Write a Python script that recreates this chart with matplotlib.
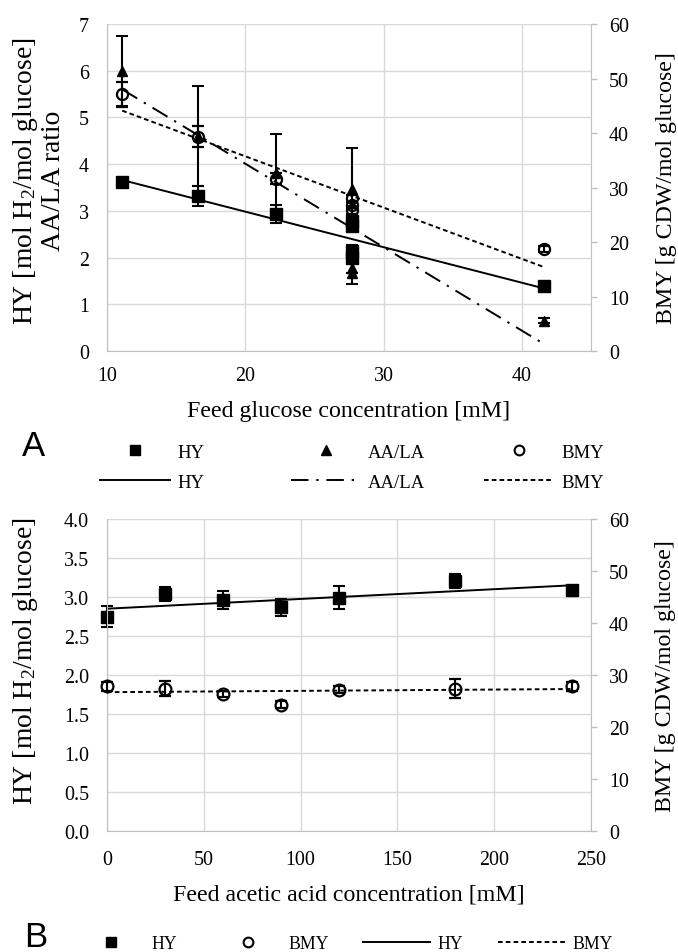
import matplotlib
matplotlib.use('Agg')
import matplotlib.pyplot as plt
from matplotlib.lines import Line2D
from matplotlib.ticker import FormatStrFormatter

plt.rcParams['font.family'] = ['Liberation Serif', 'DejaVu Serif']
plt.rcParams['mathtext.fontset'] = 'custom'
plt.rcParams['mathtext.rm'] = 'Liberation Serif'
plt.rcParams['mathtext.default'] = 'regular'

# ---------------- Panel A data ----------------
glc_hy_x = [11.1, 16.6, 22.2, 27.7, 27.7, 27.7, 27.7, 41.6]
glc_hy = [3.62, 3.32, 2.93, 2.78, 2.68, 2.15, 2.00, 1.39]
glc_hy_err = [0.04, 0.21, 0.20, 0.10, 0.08, 0.12, 0.10, 0.06]

glc_aa_x = [11.1, 16.6, 22.2, 27.7, 27.7, 27.7, 41.6]
glc_aa = [6.00, 4.60, 3.82, 3.47, 1.78, 1.66, 0.65]
glc_aa_err = [0.75, 1.07, 0.83, 0.88, 0.12, 0.23, 0.05]

glc_bmy_x = [11.1, 16.6, 22.2, 27.7, 27.7, 27.7, 41.6]
glc_bmy = [47.1, 39.3, 31.6, 28.0, 26.8, 25.8, 18.7]
glc_bmy_err = [2.3, 1.9, 1.0, 0.6, 0.6, 0.6, 0.5]

glc_trend_x = [11.1, 41.6]
glc_hy_trend = [3.66, 1.34]
glc_aa_trend = [5.60, 0.15]
glc_bmy_trend = [44.1, 15.4]

# ---------------- Panel B data ----------------
ac_x = [0, 30, 60, 90, 120, 180, 240]
ac_hy = [2.75, 3.04, 2.96, 2.87, 2.99, 3.20, 3.09]
ac_hy_err = [0.13, 0.09, 0.12, 0.11, 0.15, 0.09, 0.05]
ac_bmy = [27.8, 27.4, 26.3, 24.3, 27.2, 27.4, 27.8]
ac_bmy_err = [0.8, 1.4, 0.6, 0.7, 0.6, 1.8, 0.9]

ac_trend_x = [0, 240]
ac_hy_trend = [2.85, 3.15]
ac_bmy_trend = [26.7, 27.3]

GRID = '#d9d9d9'
SPINE = '#bfbfbf'
FS_TICK = 14.4
FS_LAB = 17.2
FS_YLAB_L = 19.9

DASHDOT = (0, (9, 4, 1.2, 4))
DASHED = (0, (2.4, 1.6))

W, H = 678, 953
fig = plt.figure(figsize=(W / 100, H / 100), dpi=100)


def box(l, t, r, b):
    return [l / W, 1 - b / H, (r - l) / W, (b - t) / H]


def style(ax, ax2, xpad):
    for a in (ax, ax2):
        for s in a.spines.values():
            s.set_visible(False)
    ax.spines['left'].set_visible(True)
    ax.spines['left'].set_color(SPINE)
    ax.spines['bottom'].set_visible(True)
    ax.spines['bottom'].set_color(SPINE)
    ax2.spines['right'].set_visible(True)
    ax2.spines['right'].set_color(SPINE)
    ax.grid(True, color=GRID, lw=1.0)
    ax.set_axisbelow(True)
    ax.tick_params(axis='y', length=0, labelsize=FS_TICK, pad=13)
    ax.tick_params(axis='x', length=0, labelsize=FS_TICK, pad=xpad)
    ax2.tick_params(axis='y', length=4.5, width=1.0, color=SPINE, labelsize=FS_TICK, pad=8.5)


ebkw = dict(ecolor='black', elinewidth=1.5, capsize=4.3, capthick=1.5, linestyle='none')

# ================= Panel A =================
axA = fig.add_axes(box(107, 25, 591, 352))
axA2 = axA.twinx()
style(axA, axA2, 11)
axA.set_xlim(10, 45)
axA.set_xticks([10, 20, 30, 40])
axA.set_ylim(0, 7)
axA.set_yticks(range(0, 8))
axA2.set_ylim(0, 60)
axA2.set_yticks(range(0, 61, 10))

axA.plot(glc_trend_x, glc_hy_trend, color='black', lw=1.4, ls='-')
axA.plot(glc_trend_x, glc_aa_trend, color='black', lw=1.4, ls=DASHDOT)
axA2.plot(glc_trend_x, glc_bmy_trend, color='black', lw=1.4, ls=DASHED)

axA.errorbar(glc_hy_x, glc_hy, yerr=glc_hy_err, marker='s', ms=8, mfc='black', mec='black', **ebkw)
axA.errorbar(glc_aa_x, glc_aa, yerr=glc_aa_err, marker='^', ms=7, mfc='black', mec='black', **ebkw)
axA2.errorbar(glc_bmy_x, glc_bmy, yerr=glc_bmy_err, marker='o', ms=8, mfc='none', mec='black', mew=1.6, **ebkw)

axA.set_xlabel('Feed glucose concentration [mM]', fontsize=FS_LAB, va='center')
axA.xaxis.set_label_coords(0.5, (352 - 412) / 327)
axA.set_ylabel('HY [mol H$_2$/mol glucose]\nAA/LA ratio', fontsize=FS_YLAB_L, linespacing=1.1, va='center')
axA.yaxis.set_label_coords((38.5 - 107) / 484, (352 - 181) / 327)
axA2.set_ylabel('BMY [g CDW/mol glucose]', fontsize=FS_LAB, va='center')
axA2.yaxis.set_label_coords((667 - 107) / 484, 0.5)

# ================= Panel B =================
axB = fig.add_axes(box(107, 520, 591, 832))
axB2 = axB.twinx()
style(axB, axB2, 14)
axB.set_xlim(0, 250)
axB.set_xticks(range(0, 251, 50))
axB.set_ylim(0, 4)
axB.set_yticks([i * 0.5 for i in range(9)])
axB.yaxis.set_major_formatter(FormatStrFormatter('%.1f'))
axB2.set_ylim(0, 60)
axB2.set_yticks(range(0, 61, 10))

axB.plot(ac_trend_x, ac_hy_trend, color='black', lw=1.4, ls='-')
axB2.plot(ac_trend_x, ac_bmy_trend, color='black', lw=1.4, ls=DASHED)
axB.errorbar(ac_x, ac_hy, yerr=ac_hy_err, marker='s', ms=8.5, mfc='black', mec='black', clip_on=False, **ebkw)
axB2.errorbar(ac_x, ac_bmy, yerr=ac_bmy_err, marker='o', ms=8.5, mfc='none', mec='black', mew=1.6, clip_on=False, **ebkw)

axB.set_xlabel('Feed acetic acid concentration [mM]', fontsize=FS_LAB, va='center')
axB.xaxis.set_label_coords(0.5, (832 - 895) / 312)
axB.set_ylabel('HY [mol H$_2$/mol glucose]', fontsize=FS_YLAB_L, va='center')
axB.yaxis.set_label_coords((25 - 107) / 484, (832 - 661) / 312)
axB2.set_ylabel('BMY [g CDW/mol glucose]', fontsize=FS_LAB, va='center')
axB2.yaxis.set_label_coords((666 - 107) / 484, 0.5)

# ================= Legends =================
h_sq = Line2D([], [], ls='none', marker='s', ms=7.5, color='black')
h_tri = Line2D([], [], ls='none', marker='^', ms=6.5, color='black')
h_circ = Line2D([], [], ls='none', marker='o', ms=7, mfc='none', mec='black', mew=1.5)
h_solid = Line2D([], [], color='black', lw=1.4, ls='-')
h_dd = Line2D([], [], color='black', lw=1.4, ls=DASHDOT)
h_dash = Line2D([], [], color='black', lw=1.4, ls=DASHED)


def legend_item(handle, label, x_px, y_px, hlen_px, fs):
    em = fs * 100 / 72
    leg = fig.legend([handle], [label], frameon=False, fontsize=fs,
                     handlelength=hlen_px / em, handletextpad=7 / em,
                     borderpad=0, borderaxespad=0,
                     loc='center left', bbox_to_anchor=(x_px / W, 1 - y_px / H))
    return leg


for h, lab, x, y in [(h_sq, 'HY', 100, 453), (h_tri, 'AA/LA', 291, 453), (h_circ, 'BMY', 484, 453),
                     (h_solid, 'HY', 100, 483), (h_dd, 'AA/LA', 291, 483), (h_dash, 'BMY', 484, 483)]:
    legend_item(h, lab, x, y, 70, 13.5)

for h, lab, x in [(h_sq, 'HY', 77), (h_circ, 'BMY', 214), (h_solid, 'HY', 363), (h_dash, 'BMY', 498)]:
    legend_item(h, lab, x, 945, 67, 12.8)

fig.text(33 / W, 1 - 446 / H, 'A', fontsize=25, family=['Liberation Sans', 'DejaVu Sans'], va='center', ha='center')
fig.text(36 / W, 1 - 938 / H, 'B', fontsize=25, family=['Liberation Sans', 'DejaVu Sans'], va='center', ha='center')

fig.savefig('out.png', dpi=100)
